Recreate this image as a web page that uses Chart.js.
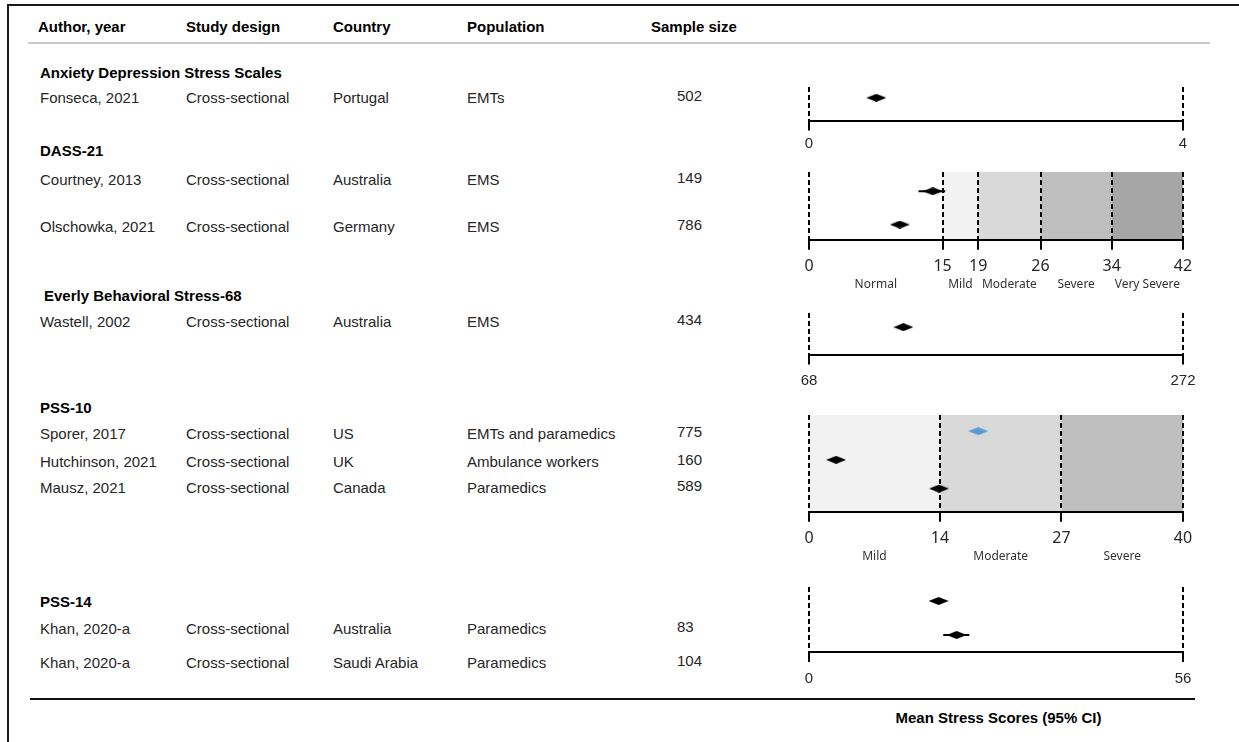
<!DOCTYPE html>
<html>
<head>
<meta charset="utf-8">
<title>Mean stress scores</title>
<script src="https://cdn.jsdelivr.net/npm/chart.js@4.4.0/dist/chart.umd.min.js"></script>
<style>
  body { margin: 0; background: #fff; }
  #page {
    position: relative; width: 1239px; height: 742px; overflow: hidden;
    font-family: 'Liberation Sans', Arial, sans-serif; font-size: 15px; color: #262626;
  }
  .cell { position: absolute; height: 20px; line-height: 20px; white-space: nowrap; }
  .bold { font-weight: bold; color: #000; }
  .rule { position: absolute; }
  canvas.panel { position: absolute; }
</style>
</head>
<body>
<div id="page">
  <div class="rule" style="left:8px;top:4px;width:1231px;height:2px;background:#1a1a1a"></div>
  <div class="rule" style="left:7px;top:4px;width:2px;height:738px;background:#1a1a1a"></div>
  <div class="rule" style="left:28px;top:42px;width:1182px;height:2px;background:#c9c9c9"></div>
  <div class="rule" style="left:30px;top:698px;width:1165px;height:2px;background:#111"></div>
</div>
<script>
// Column headings
const columns = ['Author, year', 'Study design', 'Country', 'Population', 'Sample size'];

// Stress instruments, one small axis each
const scaleNames = ['Anxiety Depression Stress Scales', 'DASS-21', 'Everly Behavioral Stress-68', 'PSS-10', 'PSS-14'];
const scaleMin = [0, 0, 68, 0, 0];
const scaleMax = [4, 42, 272, 40, 56];
const scaleTicks = [[0, 4], [0, 15, 19, 26, 34, 42], [68, 272], [0, 14, 27, 40], [0, 56]];
const severityLevels = [[], ['Normal', 'Mild', 'Moderate', 'Severe', 'Very Severe'], [], ['Mild', 'Moderate', 'Severe'], []];

// Studies
const authors = ['Fonseca, 2021', 'Courtney, 2013', 'Olschowka, 2021', 'Wastell, 2002', 'Sporer, 2017',
  'Hutchinson, 2021', 'Mausz, 2021', 'Khan, 2020-a', 'Khan, 2020-a'];
const designs = ['Cross-sectional', 'Cross-sectional', 'Cross-sectional', 'Cross-sectional', 'Cross-sectional',
  'Cross-sectional', 'Cross-sectional', 'Cross-sectional', 'Cross-sectional'];
const countries = ['Portugal', 'Australia', 'Germany', 'Australia', 'US', 'UK', 'Canada', 'Australia', 'Saudi Arabia'];
const populations = ['EMTs', 'EMS', 'EMS', 'EMS', 'EMTs and paramedics', 'Ambulance workers', 'Paramedics',
  'Paramedics', 'Paramedics'];
const sampleSizes = [502, 149, 786, 434, 775, 160, 589, 83, 104];
const studyScale = [0, 1, 1, 2, 3, 3, 3, 4, 4];
const meanScore = [0.72, 13.9, 10.2, 119.5, 18.1, 2.9, 13.9, 19.4, 22.1];
const ciLow = [null, 12.3, null, null, null, null, null, null, 20.1];
const ciHigh = [null, 15.3, null, null, null, null, null, null, 24.0];

const footer = 'Mean Stress Scores (95% CI)';

// Layout
const headerX = [38, 186, 333, 467, 651];
const colX = [40, 186, 333, 467, 677];
const headerY = 27;
const groupY = [73, 151, 296, 408, 602];
const rowY = [98, 180, 227, 322, 434, 462, 488, 629, 663];

const AXIS_LEFT = 809;
const AXIS_RIGHT = 1183;
const PAD_X = 24;
const panelBox = [
  { top: 87, axis: 118, first: 10, gap: 30, labelPad: 4, family: 'Liberation Sans', size: 15 },
  { top: 172, axis: 239, first: 19, gap: 33, labelPad: 7, family: 'Noto Sans', size: 16 },
  { top: 313, axis: 354, first: 14, gap: 30, labelPad: 7, family: 'Liberation Sans', size: 15 },
  { top: 415, axis: 511, first: 16, gap: 28.5, labelPad: 7, family: 'Noto Sans', size: 16 },
  { top: 587, axis: 652, first: 14, gap: 34, labelPad: 8, family: 'Liberation Sans', size: 15 }
];
const bandFill = [null, [null, '#f2f2f2', '#d9d9d9', '#bfbfbf', '#a6a6a6'], null, ['#f2f2f2', '#d9d9d9', '#bfbfbf'], null];
const highlightStudy = 4;

const page = document.getElementById('page');

function addText(text, x, y, cls) {
  const d = document.createElement('div');
  d.className = 'cell' + (cls ? ' ' + cls : '');
  d.style.left = x + 'px';
  d.style.top = (y - 10) + 'px';
  d.textContent = text;
  page.appendChild(d);
  return d;
}

// Table part
columns.forEach((c, i) => addText(c, headerX[i], headerY, 'bold'));
scaleNames.forEach((n, s) => addText(n, s === 2 ? 44 : 40, groupY[s], 'bold'));
authors.forEach((a, i) => {
  const cells = [a, designs[i], countries[i], populations[i]];
  cells.forEach((c, k) => addText(c, colX[k], rowY[i]));
  addText(String(sampleSizes[i]), colX[4], rowY[i] - 2);
});
const foot = addText(footer, 895, 718, 'bold');
foot.style.width = '207px';
foot.style.textAlign = 'center';

// Flat diamond marker
function makeDiamond(color, w, h) {
  const c = document.createElement('canvas');
  c.width = w;
  c.height = h;
  const g = c.getContext('2d');
  g.fillStyle = color;
  g.beginPath();
  g.moveTo(0, h / 2);
  g.lineTo(w / 2, 0);
  g.lineTo(w, h / 2);
  g.lineTo(w / 2, h);
  g.closePath();
  g.fill();
  return c;
}
const blackDiamond = makeDiamond('#000', 20, 8);
const blueDiamond = makeDiamond('#5b9bd5', 20, 8);

// Shaded severity bands behind the grid, level names under the ticks
const severityBands = {
  id: 'severityBands',
  beforeDraw(chart, args, opts) {
    if (!opts.fills) return;
    const { ctx, chartArea } = chart;
    const x = chart.scales.x;
    ctx.save();
    opts.fills.forEach((fill, i) => {
      if (!fill) return;
      const x1 = x.getPixelForValue(opts.edges[i]);
      const x2 = x.getPixelForValue(opts.edges[i + 1]);
      ctx.fillStyle = fill;
      ctx.fillRect(x1, chartArea.top, x2 - x1, chartArea.bottom - chartArea.top);
    });
    ctx.restore();
  },
  afterDraw(chart, args, opts) {
    if (!opts.levels || !opts.levels.length) return;
    const { ctx, chartArea } = chart;
    const x = chart.scales.x;
    ctx.save();
    ctx.font = '12px "Noto Sans"';
    ctx.fillStyle = '#333';
    ctx.textAlign = 'center';
    ctx.textBaseline = 'middle';
    opts.levels.forEach((lvl, i) => {
      const mid = (x.getPixelForValue(opts.edges[i]) + x.getPixelForValue(opts.edges[i + 1])) / 2;
      ctx.fillText(lvl, mid, chartArea.bottom + 45);
    });
    ctx.restore();
  }
};

scaleNames.forEach((name, s) => {
  const box = panelBox[s];
  const extraBottom = severityLevels[s].length ? 28 : 2;
  const scaleH = Math.ceil(10 + box.size * 1.2 + 2 * box.labelPad);
  const canvas = document.createElement('canvas');
  canvas.className = 'panel';
  canvas.width = AXIS_RIGHT - AXIS_LEFT + 2 * PAD_X;
  canvas.height = 4 + (box.axis - box.top) + scaleH + extraBottom;
  canvas.style.left = (AXIS_LEFT - PAD_X) + 'px';
  canvas.style.top = (box.top - 4) + 'px';
  page.appendChild(canvas);

  const members = studyScale.map((g, i) => (g === s ? i : -1)).filter(i => i >= 0);
  const datasets = [{
    data: members.map((i, r) => ({ x: meanScore[i], y: r })),
    pointStyle: members.map(i => (i === highlightStudy ? blueDiamond : blackDiamond)),
    pointRadius: 3
  }];
  members.forEach((i, r) => {
    if (ciLow[i] === null) return;
    datasets.push({
      data: [{ x: ciLow[i], y: r }, { x: ciHigh[i], y: r }],
      showLine: true,
      borderColor: '#000',
      borderWidth: 2,
      pointRadius: 0
    });
  });

  new Chart(canvas, {
    type: 'scatter',
    data: { datasets },
    plugins: [severityBands],
    options: {
      responsive: false,
      animation: false,
      events: [],
      layout: { autoPadding: false, padding: { top: 4, left: PAD_X, right: PAD_X, bottom: extraBottom } },
      plugins: {
        legend: { display: false },
        tooltip: { enabled: false },
        severityBands: { fills: bandFill[s], edges: scaleTicks[s], levels: severityLevels[s] }
      },
      scales: {
        x: {
          type: 'linear',
          min: scaleMin[s],
          max: scaleMax[s],
          afterBuildTicks: sc => { sc.ticks = scaleTicks[s].map(v => ({ value: v })); },
          grid: { color: '#000', lineWidth: 2, tickLength: 10, tickColor: '#000', tickWidth: 2, tickBorderDash: [] },
          border: { display: true, color: '#000', width: 2, dash: [5, 3] },
          ticks: {
            color: '#262626',
            padding: box.labelPad,
            autoSkip: false,
            maxRotation: 0,
            font: { family: box.family, size: box.size },
            callback: v => String(v)
          }
        },
        y: {
          type: 'linear',
          display: false,
          reverse: true,
          min: -box.first / box.gap,
          max: (box.axis - box.top - box.first) / box.gap
        }
      }
    }
  });
});
</script>
</body>
</html>
